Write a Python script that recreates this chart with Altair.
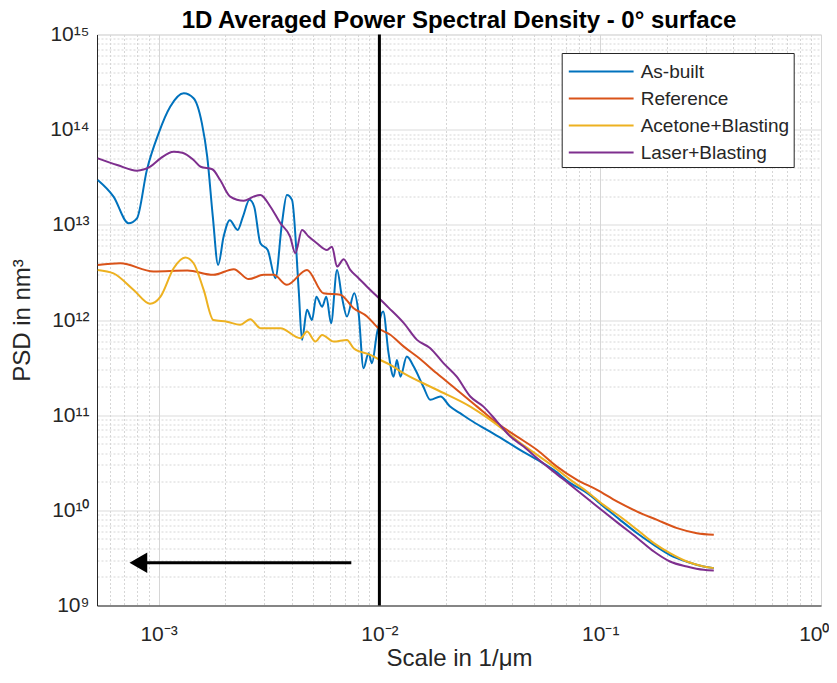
import altair as alt
import pandas as pd

# ---------------- data ----------------
series_names = ["As-built", "Reference", "Acetone+Blasting", "Laser+Blasting"]
series_colors = ["#0072BD", "#D95319", "#EDB120", "#7E2F8E"]

asbuilt_x = [5.3e-4, 6.25e-4, 7.31e-4, 7.98e-4, 8.85e-4, 1.0e-3, 1.13e-3, 1.30e-3, 1.44e-3, 1.57e-3,
             1.66e-3, 1.76e-3, 1.86e-3, 1.97e-3, 2.10e-3, 2.28e-3, 2.41e-3, 2.58e-3, 2.71e-3, 2.89e-3,
             3.12e-3, 3.38e-3, 3.62e-3, 3.81e-3, 4.02e-3, 4.31e-3, 4.46e-3, 4.70e-3, 4.95e-3, 5.18e-3,
             5.50e-3, 5.75e-3, 6.04e-3, 6.43e-3, 6.76e-3, 7.13e-3, 7.69e-3, 8.05e-3, 8.47e-3, 8.93e-3,
             9.25e-3, 9.75e-3, 1.04e-2, 1.10e-2, 1.16e-2, 1.20e-2, 1.245e-2, 1.33e-2, 1.43e-2, 1.58e-2,
             1.70e-2, 1.89e-2, 2.09e-2, 2.32e-2, 2.58e-2, 3.07e-2, 3.66e-2, 4.35e-2, 5.18e-2, 6.15e-2,
             7.33e-2, 8.71e-2, 0.1035, 0.123, 0.147, 0.175, 0.207, 0.247, 0.294, 0.327]
asbuilt_y = [2.96e13, 1.98e13, 1.04e13, 1.17e13, 3.78e13, 9.16e13, 1.75e14, 2.41e14, 2.14e14, 1.17e14,
             5.2e13, 1.22e13, 3.79e12, 7.52e12, 1.12e13, 8.83e12, 1.22e13, 1.83e13, 1.55e13, 6.41e12,
             5.45e12, 2.75e12, 1.04e13, 2.06e13, 1.83e13, 2.07e12, 6.18e11, 1.28e12, 1.0e12, 1.76e12,
             1.38e12, 1.76e12, 9.27e11, 3.36e12, 1.76e12, 1.09e12, 1.91e12, 1.18e12, 3.12e11, 4.48e11,
             3.52e11, 7.26e11, 1.23e12, 4.48e11, 2.54e11, 3.8e11, 2.54e11, 4.13e11, 3.24e11, 2.0e11,
             1.45e11, 1.57e11, 1.23e11, 1.05e11, 8.9e10, 7.0e10, 5.5e10, 4.3e10, 3.4e10, 2.66e10,
             1.93e10, 1.52e10, 1.10e10, 7.94e9, 5.75e9, 4.34e9, 3.39e9, 2.88e9, 2.57e9, 2.47e9]

reference_x = [5.3e-4, 6.71e-4, 9.48e-4, 1.35e-3, 1.77e-3, 2.19e-3, 2.56e-3, 2.99e-3, 3.32e-3, 3.81e-3,
               4.70e-3, 5.58e-3, 6.65e-3, 7.64e-3, 8.79e-3, 9.91e-3, 1.12e-2, 1.29e-2, 1.48e-2, 1.82e-2,
               2.24e-2, 2.77e-2, 3.41e-2, 4.20e-2, 5.18e-2, 6.37e-2, 7.85e-2, 9.68e-2, 0.119, 0.147,
               0.181, 0.223, 0.274, 0.327]
reference_y = [3.79e12, 3.95e12, 3.24e12, 3.31e12, 2.98e12, 3.42e12, 2.69e12, 2.98e12, 2.98e12, 2.34e12,
               3.36e12, 1.91e12, 1.84e12, 1.33e12, 1.09e12, 8.2e11, 7.0e11, 5.25e11, 4.13e11, 2.75e11,
               1.85e11, 1.23e11, 8.24e10, 5.96e10, 4.31e10, 2.88e10, 2.09e10, 1.64e10, 1.24e10, 9.7e9,
               7.94e9, 6.5e9, 5.75e9, 5.53e9]

acetone_x = [5.3e-4, 6.25e-4, 7.71e-4, 9.16e-4, 1.02e-3, 1.17e-3, 1.32e-3, 1.44e-3, 1.60e-3, 1.77e-3,
             2.04e-3, 2.34e-3, 2.60e-3, 2.89e-3, 3.56e-3, 4.39e-3, 4.70e-3, 5.13e-3, 5.50e-3, 6.21e-3,
             7.13e-3, 7.64e-3, 9.10e-3, 1.01e-2, 1.12e-2, 1.29e-2, 1.82e-2, 2.58e-2, 3.66e-2, 4.35e-2,
             5.18e-2, 6.15e-2, 7.33e-2, 8.71e-2, 0.1035, 0.123, 0.147, 0.175, 0.207, 0.247, 0.294, 0.327]
acetone_y = [3.36e12, 3.09e12, 2.07e12, 1.48e12, 1.76e12, 3.5e12, 4.53e12, 3.95e12, 2.07e12, 1.0e12,
             9.6e11, 8.9e11, 1.02e12, 8.2e11, 8.2e11, 6.44e11, 7.55e11, 5.93e11, 6.97e11, 5.93e11,
             6.18e11, 5.06e11, 4.3e11, 3.8e11, 3.37e11, 2.75e11, 1.85e11, 1.23e11, 7.0e10, 5.08e10,
             3.83e10, 2.88e10, 2.09e10, 1.58e10, 1.14e10, 8.6e9, 6.24e9, 4.52e9, 3.55e9, 2.9e9, 2.57e9, 2.47e9]

laser_x = [5.3e-4, 6.49e-4, 7.98e-4, 9.16e-4, 1.02e-3, 1.17e-3, 1.28e-3, 1.44e-3, 1.55e-3, 1.75e-3,
           1.90e-3, 2.11e-3, 2.43e-3, 2.69e-3, 2.89e-3, 3.21e-3, 3.56e-3, 3.94e-3, 4.16e-3, 4.46e-3,
           4.78e-3, 5.21e-3, 5.79e-3, 6.10e-3, 6.43e-3, 6.89e-3, 7.38e-3, 8.05e-3, 8.79e-3, 9.59e-3,
           1.10e-2, 1.29e-2, 1.48e-2, 1.70e-2, 1.95e-2, 2.24e-2, 2.58e-2, 2.96e-2, 3.41e-2, 3.92e-2,
           4.50e-2, 5.18e-2, 6.15e-2, 7.33e-2, 8.71e-2, 0.1035, 0.123, 0.147, 0.175, 0.207, 0.247,
           0.294, 0.327]
laser_y = [5.0e13, 4.26e13, 3.71e13, 4.08e13, 5.0e13, 5.87e13, 5.73e13, 4.81e13, 4.08e13, 3.84e13,
           2.96e13, 1.98e13, 1.79e13, 1.98e13, 2.06e13, 1.55e13, 1.04e13, 7.52e12, 5.04e12, 8.83e12,
           7.52e12, 6.41e12, 5.45e12, 5.9e12, 3.64e12, 4.36e12, 3.36e12, 2.75e12, 2.24e12, 1.84e12,
           1.35e12, 9.27e11, 6.18e11, 5.06e11, 3.52e11, 2.54e11, 1.57e11, 1.23e11, 8.57e10, 5.96e10,
           4.68e10, 3.53e10, 2.55e10, 1.85e10, 1.34e10, 9.7e9, 7.08e9, 5.13e9, 3.69e9, 2.9e9, 2.57e9,
           2.37e9, 2.33e9]

vline_x = [0.01]
arrow_tail_x = [0.00746]
arrow_head_x = [0.00085]
arrow_tip_x = [0.00081]
arrow_y = [2.81e9]

x_domain = [5.26e-4, 1.0]
y_domain = [1e9, 1e15]

# ticks (major decades + minor 2..9)
x_major = [1e-3, 1e-2, 1e-1, 1.0]
x_major_labels = ["10\u207b\u00b3", "10\u207b\u00b2", "10\u207b\u00b9", "10\u2070"]
y_major = [1e9, 1e10, 1e11, 1e12, 1e13, 1e14, 1e15]
y_major_labels = ["10\u2079", "10\u00b9\u2070", "10\u00b9\u00b9", "10\u00b9\u00b2",
                  "10\u00b9\u00b3", "10\u00b9\u2074", "10\u00b9\u2075"]

x_ticks = [6e-4, 7e-4, 8e-4, 9e-4, 1e-3, 2e-3, 3e-3, 4e-3, 5e-3, 6e-3, 7e-3, 8e-3, 9e-3,
           1e-2, 2e-2, 3e-2, 4e-2, 5e-2, 6e-2, 7e-2, 8e-2, 9e-2,
           1e-1, 2e-1, 3e-1, 4e-1, 5e-1, 6e-1, 7e-1, 8e-1, 9e-1, 1.0]
y_ticks = []
for e in range(9, 15):
    for m in range(1, 10):
        y_ticks.append(float(f"{m}e{e}"))
y_ticks.append(1e15)

# ---------------- build tables ----------------
rows = []
for name, xs, ys in [("As-built", asbuilt_x, asbuilt_y),
                     ("Reference", reference_x, reference_y),
                     ("Acetone+Blasting", acetone_x, acetone_y),
                     ("Laser+Blasting", laser_x, laser_y)]:
    for i, (a, b) in enumerate(zip(xs, ys)):
        rows.append({"series": name, "scale": a, "psd": b, "idx": i})
df = pd.DataFrame(rows)


def label_expr(vals, labels):
    expr = "''"
    for v, l in reversed(list(zip(vals, labels))):
        expr = f"abs(datum.value / {v!r} - 1) < 1e-6 ? '{l}' : ({expr})"
    return expr


def major_test(vals):
    return " || ".join(f"abs(datum.value / {v!r} - 1) < 1e-6" for v in vals)


FONT = "Liberation Sans"
TXT = "#262626"
GRID = "#d6d6d6"

x_scale = alt.Scale(type="log", domain=x_domain, nice=False)
y_scale = alt.Scale(type="log", domain=y_domain, nice=False)

x_axis = alt.Axis(
    values=x_ticks, labelExpr=label_expr(x_major, x_major_labels),
    grid=True, gridColor=GRID, gridWidth=1,
    gridDash={"condition": {"test": major_test(x_major), "value": [1, 0]}, "value": [2, 2]},
    ticks=False, domainColor=TXT, labelFont=FONT, labelFontSize=21, labelColor=TXT,
    labelBaseline="alphabetic", labelPadding=35, labelOverlap=False,
    labelFlush=1, labelFlushOffset=8, labelBound=False,
    title="Scale in 1/\u03bcm", titleFont=FONT, titleFontSize=24, titleFontWeight="normal",
    titleColor=TXT, titleY=52.5, titleBaseline="middle",
)
y_axis = alt.Axis(
    values=y_ticks, labelExpr=label_expr(y_major, y_major_labels),
    grid=True, gridColor=GRID, gridWidth=1,
    gridDash={"condition": {"test": major_test(y_major), "value": [1, 0]}, "value": [2, 2]},
    ticks=False, domainColor=TXT, labelFont=FONT, labelFontSize=21, labelColor=TXT,
    labelPadding=8, labelOverlap=False, labelBound=False, labelFlush=False,
    title="PSD in nm\u00b3", titleFont=FONT, titleFontSize=24, titleFontWeight="normal",
    titleColor=TXT, titleX=-75, titleY=285.5, titleAngle=270, titleBaseline="middle", titleAlign="center",
)

lines = alt.Chart(df).mark_line(strokeWidth=2, clip=True, interpolate="monotone").encode(
    x=alt.X("scale:Q", scale=x_scale, axis=x_axis),
    y=alt.Y("psd:Q", scale=y_scale, axis=y_axis),
    color=alt.Color(
        "series:N",
        scale=alt.Scale(domain=series_names, range=series_colors),
        legend=alt.Legend(
            orient="none", legendX=464.7, legendY=18.5, title=None,
            symbolType="M-2.4,0H2.4", symbolSize=729, symbolStrokeWidth=2, symbolOffset=21,
            labelOffset=25, labelFont=FONT, labelFontSize=19, labelColor=TXT, labelLimit=400,
            padding=4, rowPadding=2, strokeColor=TXT, fillColor="white", cornerRadius=0,
        ),
    ),
    order="idx:Q",
)

vline = alt.Chart(pd.DataFrame({"x": vline_x})).mark_rule(color="black", strokeWidth=3).encode(
    x=alt.X("x:Q", scale=x_scale)
)

arrow_df = pd.DataFrame({"x": arrow_tail_x, "x2": arrow_head_x, "y": arrow_y, "tip": arrow_tip_x})
arrow_shaft = alt.Chart(arrow_df).mark_rule(color="black", strokeWidth=3).encode(
    x=alt.X("x:Q", scale=x_scale), x2="x2:Q", y=alt.Y("y:Q", scale=y_scale)
)
arrow_head = alt.Chart(arrow_df).mark_point(
    shape="triangle-left", filled=True, color="black", size=420, opacity=1
).encode(
    x=alt.X("tip:Q", scale=x_scale), y=alt.Y("y:Q", scale=y_scale)
)

chart = alt.layer(lines, vline, arrow_shaft, arrow_head).properties(
    width=724, height=571,
    title=alt.Title("1D Averaged Power Spectral Density - 0\u00b0 surface", font=FONT, fontSize=24,
                    fontWeight="bold", color="black", anchor="middle", offset=-9),
    autosize=alt.AutoSizeParams(type="none"),
    padding={"left": 89, "top": 26.5, "right": 8, "bottom": 64.5},
).configure_view(stroke=TXT, strokeWidth=1).configure(background="white")

chart.save("out.html", embed_options={"renderer": "svg", "actions": False})
